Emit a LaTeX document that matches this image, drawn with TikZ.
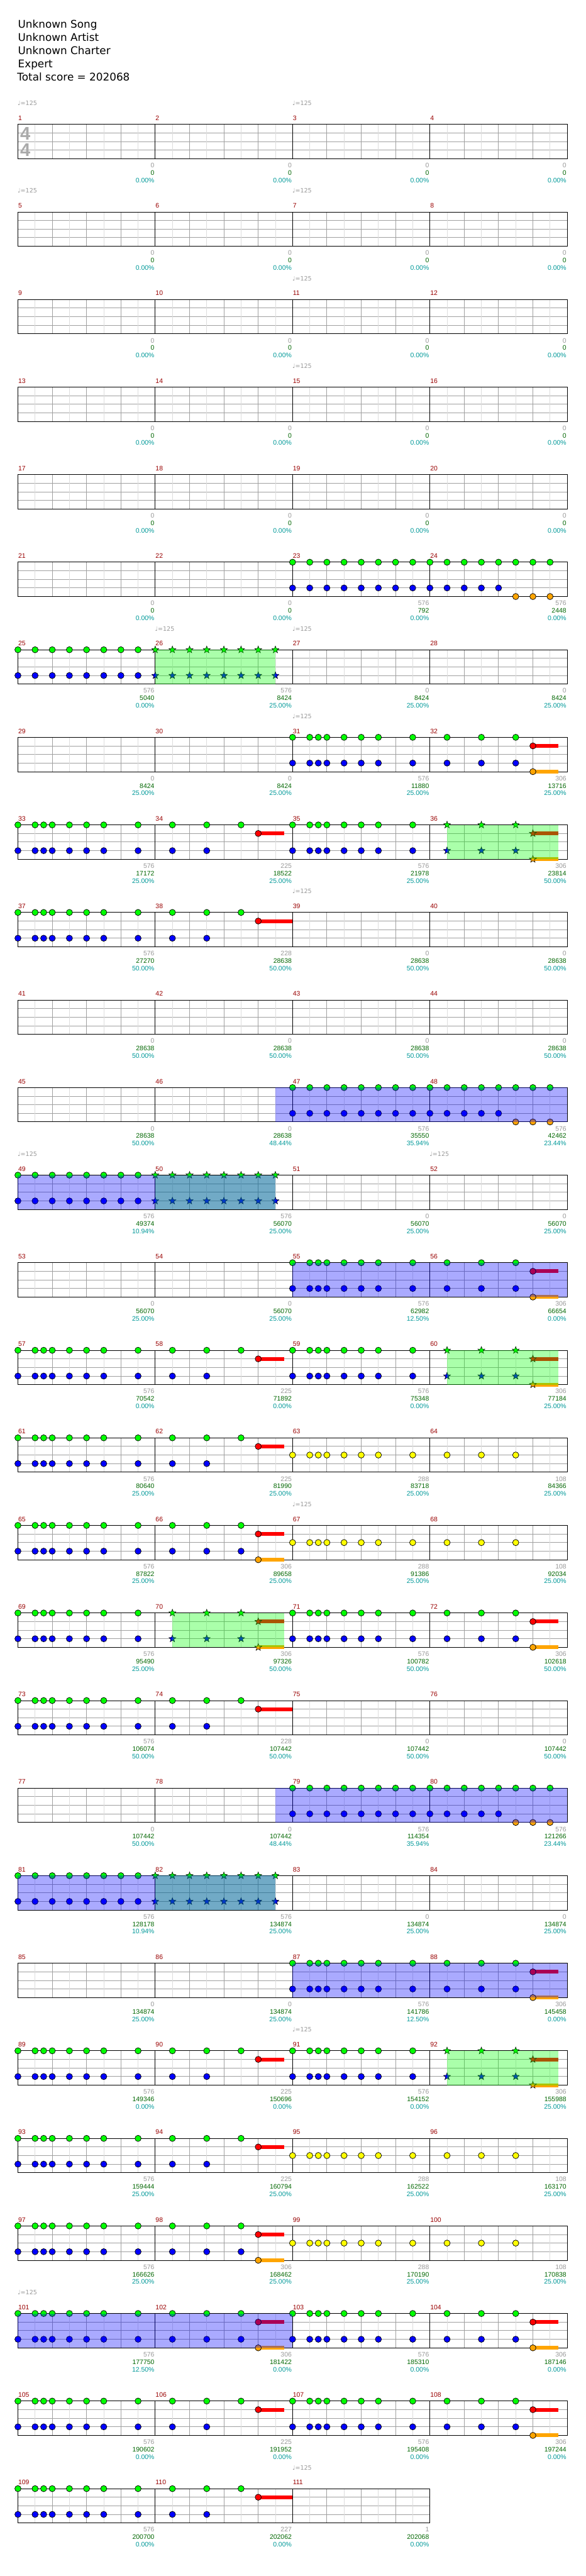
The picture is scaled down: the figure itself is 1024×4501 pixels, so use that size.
\documentclass[tikz,border=0pt]{standalone}
\usepackage{fontspec}
\setmainfont{DejaVu Sans}
\newfontfamily\lib{Liberation Sans}
\usetikzlibrary{shapes.geometric}
\definecolor{mnum}{HTML}{990000}
\definecolor{sgray}{HTML}{999999}
\definecolor{sgreen}{HTML}{006600}
\definecolor{spct}{HTML}{009999}
\definecolor{lgrid}{HTML}{DDDDDD}
\definecolor{mgrid}{HTML}{A0A0A0}
\definecolor{tsig}{HTML}{AAAAAA}
\definecolor{lane0}{HTML}{00FF00}
\definecolor{lane1}{HTML}{FF0000}
\definecolor{lane2}{HTML}{FFFF00}
\definecolor{lane3}{HTML}{0000FF}
\definecolor{lane4}{HTML}{FFA500}
\tikzset{
  small/.style={font=\lib\fontsize{11.5}{12}\selectfont, inner sep=0pt},
  head/.style={font=\fontsize{18.5}{20}\selectfont, inner sep=0pt, anchor=base west},
  starnote/.style={star, star points=5, star point ratio=2.4, minimum size=13pt, inner sep=0pt, draw=black, line width=0.6pt},
}
\newcommand\setpos[2]{%
  \pgfmathtruncatemacro\RR{(#1-1)/4}%
  \pgfmathtruncatemacro\CC{#1-1-4*\RR}%
  \pgfmathsetmacro\PX{31.3+240*\CC+30*(#2)}%
  \pgfmathsetmacro\PT{217.3+153*\RR}%
}
\newcommand\staffrow[2]{%
  \pgfmathsetmacro\PT{217.3+153*#1}%
  \pgfmathsetmacro\PR{31.3+240*#2}%
  \pgfmathtruncatemacro\NE{8*#2-1}%
  \foreach \l in {15,30,45}{\draw[mgrid,line width=1pt] (31.3,\PT+\l) -- (\PR,\PT+\l);}%
  \foreach \e in {1,...,\NE}{%
    \pgfmathsetmacro\xx{31.3+30*\e}%
    \pgfmathtruncatemacro\kk{mod(\e,8)}%
    \pgfmathtruncatemacro\oo{mod(\e,2)}%
    \ifnum\kk=0 \draw[black,line width=1pt] (\xx,\PT) -- (\xx,\PT+60);%
    \else\ifnum\oo=1 \draw[lgrid,line width=1pt] (\xx,\PT) -- (\xx,\PT+60);%
    \else \draw[mgrid,line width=1pt] (\xx,\PT) -- (\xx,\PT+60);\fi\fi
  }%
  \draw[black,line width=1pt] (31.3,\PT) rectangle (\PR,\PT+60);%
}
\newcommand\minfo[4]{%
  \setpos{#1}{0}%
  \pgfmathsetmacro\XE{\PX+240-1.3}%
  \node[small, anchor=base west, text=mnum] (mn#1) at (\PX+0.4,\PT-6.9) {#1};%
  \node[small, anchor=base east, text=sgray] (mb#1) at (\XE,\PT+75.6) {#2};%
  \node[small, anchor=base east, text=sgreen] (ms#1) at (\XE,\PT+88.6) {#3};%
  \node[small, anchor=base east, text=spct] (mp#1) at (\XE,\PT+101.6) {#4\%};%
}
\newcommand\tempo[2]{%
  \setpos{#1}{#2}%
  \node[small, anchor=base west, text=sgray, font=\fontsize{10.5}{11}\selectfont] (tp#1) at (\PX-0.5,\PT-33) {♩=125};%
}
\newcommand\nt[3]{%
  \setpos{#1}{#2}%
  \filldraw[fill=lane#3, draw=black, line width=0.8pt] (\PX,\PT+15*#3) circle (5.4pt);%
}
\newcommand\st[3]{%
  \setpos{#1}{#2}%
  \node[starnote, fill=lane#3] at (\PX,\PT+15*#3) {};%
}
\newcommand\sus[4]{%
  \setpos{#1}{#2}%
  \pgfmathsetmacro\XB{\PX+30*(#3-#2)}%
  \fill[lane#4] (\PX,\PT+15*#4-3.3) rectangle (\XB,\PT+15*#4+3.3);%
}
\newcommand\ovl[4]{%
  \setpos{#1}{#2}%
  \pgfmathsetmacro\XB{\PX+30*(#3-#2)}%
  \fill[#4, opacity=0.3333] (\PX,\PT) rectangle (\XB,\PT+60);%
}
\newcommand\pE[1]{\foreach \e in {0,...,7}{\nt{#1}{\e}{0}\nt{#1}{\e}{3}}}
\newcommand\pEs[1]{\foreach \e in {0,...,7}{\st{#1}{\e}{0}\st{#1}{\e}{3}}}
\newcommand\pEo[1]{\foreach \e in {0,...,7}{\nt{#1}{\e}{0}}\foreach \e in {0,...,4}{\nt{#1}{\e}{3}}\foreach \e in {5,6,7}{\nt{#1}{\e}{4}}}
\newcommand\pA[1]{\foreach \e in {0,1,1.5,2,3,4,5,7}{\nt{#1}{\e}{0}\nt{#1}{\e}{3}}}
\newcommand\pB[1]{\foreach \e in {1,3,5}{\nt{#1}{\e}{0}\nt{#1}{\e}{3}}\sus{#1}{6}{7.5}{1}\sus{#1}{6}{7.5}{4}\nt{#1}{6}{1}\nt{#1}{6}{4}}
\newcommand\pBs[1]{\foreach \e in {1,3,5}{\st{#1}{\e}{0}\st{#1}{\e}{3}}\sus{#1}{6}{7.5}{1}\sus{#1}{6}{7.5}{4}\st{#1}{6}{1}\st{#1}{6}{4}}
\newcommand\pC[2]{\foreach \e in {1,3,5}{\nt{#1}{\e}{0}}\foreach \e in {1,3}{\nt{#1}{\e}{3}}\sus{#1}{6}{#2}{1}\nt{#1}{6}{1}}
\newcommand\pY[1]{\foreach \e in {0,1,1.5,2,3,4,5,7}{\nt{#1}{\e}{2}}}
\newcommand\pYb[1]{\foreach \e in {1,3,5}{\nt{#1}{\e}{2}}}
\begin{document}
\begin{tikzpicture}[x=1pt,y=-1pt]
\useasboundingbox (0,0) rectangle (1024,4501);
\fill[white] (0,0) rectangle (1024,4501);
% header
\node[head] (h1) at (31.3,49.3) {Unknown Song};
\node[head] (h2) at (31.3,72.3) {Unknown Artist};
\node[head] (h3) at (31.3,95.3) {Unknown Charter};
\node[head] (h4) at (31.3,118.3) {Expert};
\node[head] (h5) at (30,141.5) {Total score = 202068};
% staffs
\foreach \r in {0,...,26}{\staffrow{\r}{4}}
\staffrow{27}{3}
\node[font=\lib\bfseries\fontsize{32}{32}\selectfont, text=tsig, inner sep=0pt] (ts1) at (44.3,233.3) {4};
\node[font=\lib\bfseries\fontsize{32}{32}\selectfont, text=tsig, inner sep=0pt] (ts2) at (44.3,262.3) {4};
% tempo marks
\foreach \m/\e in {1/0,3/0,5/0,7/0,11/0,15/0,26/0,27/0,31/0,39/0,49/0,52/0,67/0,91/0,101/0,111/0}{\tempo{\m}{\e}}
% measure info
\foreach \n/\b/\s/\p in {1/0/0/0.00,2/0/0/0.00,3/0/0/0.00,4/0/0/0.00,5/0/0/0.00,6/0/0/0.00,7/0/0/0.00,8/0/0/0.00,
 9/0/0/0.00,10/0/0/0.00,11/0/0/0.00,12/0/0/0.00,13/0/0/0.00,14/0/0/0.00,15/0/0/0.00,16/0/0/0.00,
 17/0/0/0.00,18/0/0/0.00,19/0/0/0.00,20/0/0/0.00,21/0/0/0.00,22/0/0/0.00,23/576/792/0.00,24/576/2448/0.00,
 25/576/5040/0.00,26/576/8424/25.00,27/0/8424/25.00,28/0/8424/25.00,
 29/0/8424/25.00,30/0/8424/25.00,31/576/11880/25.00,32/306/13716/25.00,
 33/576/17172/25.00,34/225/18522/25.00,35/576/21978/25.00,36/306/23814/50.00,
 37/576/27270/50.00,38/228/28638/50.00,39/0/28638/50.00,40/0/28638/50.00,
 41/0/28638/50.00,42/0/28638/50.00,43/0/28638/50.00,44/0/28638/50.00,
 45/0/28638/50.00,46/0/28638/48.44,47/576/35550/35.94,48/576/42462/23.44,
 49/576/49374/10.94,50/576/56070/25.00,51/0/56070/25.00,52/0/56070/25.00,
 53/0/56070/25.00,54/0/56070/25.00,55/576/62982/12.50,56/306/66654/0.00,
 57/576/70542/0.00,58/225/71892/0.00,59/576/75348/0.00,60/306/77184/25.00,
 61/576/80640/25.00,62/225/81990/25.00,63/288/83718/25.00,64/108/84366/25.00,
 65/576/87822/25.00,66/306/89658/25.00,67/288/91386/25.00,68/108/92034/25.00,
 69/576/95490/25.00,70/306/97326/50.00,71/576/100782/50.00,72/306/102618/50.00,
 73/576/106074/50.00,74/228/107442/50.00,75/0/107442/50.00,76/0/107442/50.00,
 77/0/107442/50.00,78/0/107442/48.44,79/576/114354/35.94,80/576/121266/23.44,
 81/576/128178/10.94,82/576/134874/25.00,83/0/134874/25.00,84/0/134874/25.00,
 85/0/134874/25.00,86/0/134874/25.00,87/576/141786/12.50,88/306/145458/0.00,
 89/576/149346/0.00,90/225/150696/0.00,91/576/154152/0.00,92/306/155988/25.00,
 93/576/159444/25.00,94/225/160794/25.00,95/288/162522/25.00,96/108/163170/25.00,
 97/576/166626/25.00,98/306/168462/25.00,99/288/170190/25.00,100/108/170838/25.00,
 101/576/177750/12.50,102/306/181422/0.00,103/576/185310/0.00,104/306/187146/0.00,
 105/576/190602/0.00,106/225/191952/0.00,107/576/195408/0.00,108/306/197244/0.00,
 109/576/200700/0.00,110/227/202062/0.00,111/1/202068/0.00}{\minfo{\n}{\b}{\s}{\p}}
% notes
\pE{23}\pEo{24}
\pE{25}\pEs{26}
\pA{31}\pB{32}
\pA{33}\pC{34}{7.5}\pA{35}\pBs{36}
\pA{37}\pC{38}{8}
\pE{47}\pEo{48}
\pE{49}\pEs{50}
\pA{55}\pB{56}
\pA{57}\pC{58}{7.5}\pA{59}\pBs{60}
\pA{61}\pC{62}{7.5}\pY{63}\pYb{64}
\pA{65}\pB{66}\pY{67}\pYb{68}
\pA{69}\pBs{70}\pA{71}\pB{72}
\pA{73}\pC{74}{8}
\pE{79}\pEo{80}
\pE{81}\pEs{82}
\pA{87}\pB{88}
\pA{89}\pC{90}{7.5}\pA{91}\pBs{92}
\pA{93}\pC{94}{7.5}\pY{95}\pYb{96}
\pA{97}\pB{98}\pY{99}\pYb{100}
\pA{101}\pB{102}\pA{103}\pB{104}
\pA{105}\pC{106}{7.5}\pA{107}\pB{108}
\pA{109}\pC{110}{8}
% star power overlays (green phrases first, blue activation on top)
\ovl{26}{0}{7}{lane0}
\ovl{36}{1}{7.5}{lane0}
\ovl{46}{7}{24}{lane3}
\ovl{50}{0}{7}{lane0}\ovl{49}{0}{15}{lane3}
\ovl{55}{0}{16}{lane3}
\ovl{60}{1}{7.5}{lane0}
\ovl{70}{1}{7.5}{lane0}
\ovl{78}{7}{24}{lane3}
\ovl{82}{0}{7}{lane0}\ovl{81}{0}{15}{lane3}
\ovl{87}{0}{16}{lane3}
\ovl{92}{1}{7.5}{lane0}
\ovl{101}{0}{16}{lane3}
\end{tikzpicture}
\end{document}
